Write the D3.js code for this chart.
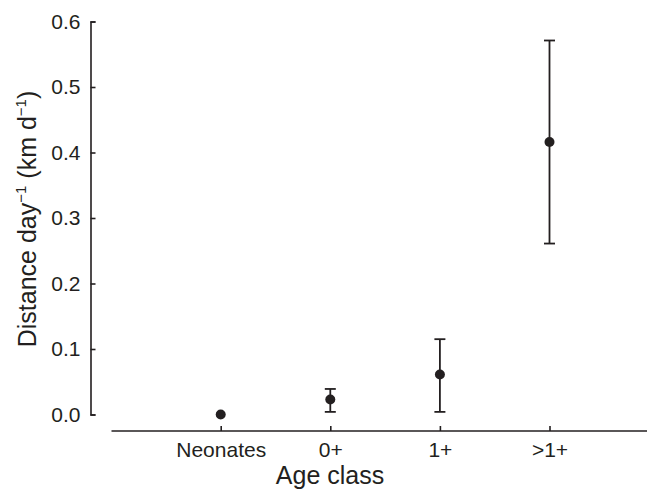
<!DOCTYPE html>
<html>
<head>
<meta charset="utf-8">
<script src="https://cdn.jsdelivr.net/npm/d3@7/dist/d3.min.js"></script>
<style>
  html, body { margin: 0; padding: 0; background: #fff; }
  svg text { font-family: "Liberation Sans", Arial, Helvetica, sans-serif; fill: #231f20; }
</style>
</head>
<body>
<svg id="chart" width="647" height="489"></svg>
<script>
// Mean daily distance by age class, with error bar limits
const categories = ["Neonates", "0+", "1+", ">1+"];
const means = [0.0, 0.023, 0.061, 0.416];
const lower = [null, 0.004, 0.004, 0.261];
const upper = [null, 0.039, 0.115, 0.571];
const yTicks = [0.0, 0.1, 0.2, 0.3, 0.4, 0.5, 0.6];

const ink = "#231f20";
const svg = d3.select("#chart");

const x = d3.scalePoint().domain(categories).range([220.7, 549.5]);
const y = d3.scaleLinear().domain([0, 0.6]).range([414.5, 21.5]);

// y axis: ticks point inward, labels to the left
const yAxis = d3.axisLeft(y).tickValues(yTicks).tickFormat(d3.format(".1f"))
  .tickSizeInner(-5).tickSizeOuter(-5).tickPadding(10);
const gy = svg.append("g").attr("transform", "translate(90.5,0)").call(yAxis);
gy.select(".domain").attr("stroke", ink).attr("stroke-width", 1.6);
gy.selectAll(".tick line").attr("stroke", ink).attr("stroke-width", 1.6);
gy.selectAll(".tick text").attr("font-size", 21).style("fill", ink);

// x axis: long baseline with upward ticks at each category
const xAxis = d3.axisBottom(x).tickSizeInner(-5).tickSizeOuter(0).tickPadding(11);
const gx = svg.append("g").attr("transform", "translate(0,431)").call(xAxis);
gx.select(".domain").remove();
gx.append("line").attr("x1", 111.5).attr("x2", 647).attr("y1", 0).attr("y2", 0)
  .attr("stroke", ink).attr("stroke-width", 1.6);
gx.selectAll(".tick line").attr("stroke", ink).attr("stroke-width", 1.6);
gx.selectAll(".tick text").attr("font-size", 21).style("fill", ink);

// axis titles
svg.append("text").attr("x", 330).attr("y", 484).attr("text-anchor", "middle")
  .attr("font-size", 25).text("Age class");

const yt = svg.append("text").attr("transform", "translate(36,219) rotate(-90)")
  .attr("text-anchor", "middle").attr("font-size", 25);
yt.append("tspan").text("Distance day");
yt.append("tspan").attr("font-size", 15).attr("dy", -10).text("\u22121");
yt.append("tspan").attr("dy", 10).text(" (km d");
yt.append("tspan").attr("font-size", 15).attr("dy", -10).text("\u22121");
yt.append("tspan").attr("dy", 10).text(")");

// error bars
const data = categories.map((c, i) => ({ c, m: means[i], lo: lower[i], hi: upper[i] }));
const bars = svg.append("g").selectAll("g").data(data.filter(d => d.lo !== null)).join("g")
  .attr("stroke", ink).attr("stroke-width", 1.8);
bars.append("line").attr("x1", d => x(d.c)).attr("x2", d => x(d.c))
  .attr("y1", d => y(d.hi)).attr("y2", d => y(d.lo));
bars.append("line").attr("x1", d => x(d.c) - 5.5).attr("x2", d => x(d.c) + 5.5)
  .attr("y1", d => y(d.hi)).attr("y2", d => y(d.hi));
bars.append("line").attr("x1", d => x(d.c) - 5.5).attr("x2", d => x(d.c) + 5.5)
  .attr("y1", d => y(d.lo)).attr("y2", d => y(d.lo));

// mean points
svg.append("g").selectAll("circle").data(data).join("circle")
  .attr("cx", d => x(d.c)).attr("cy", d => y(d.m)).attr("r", 5)
  .attr("fill", ink);
</script>
</body>
</html>
